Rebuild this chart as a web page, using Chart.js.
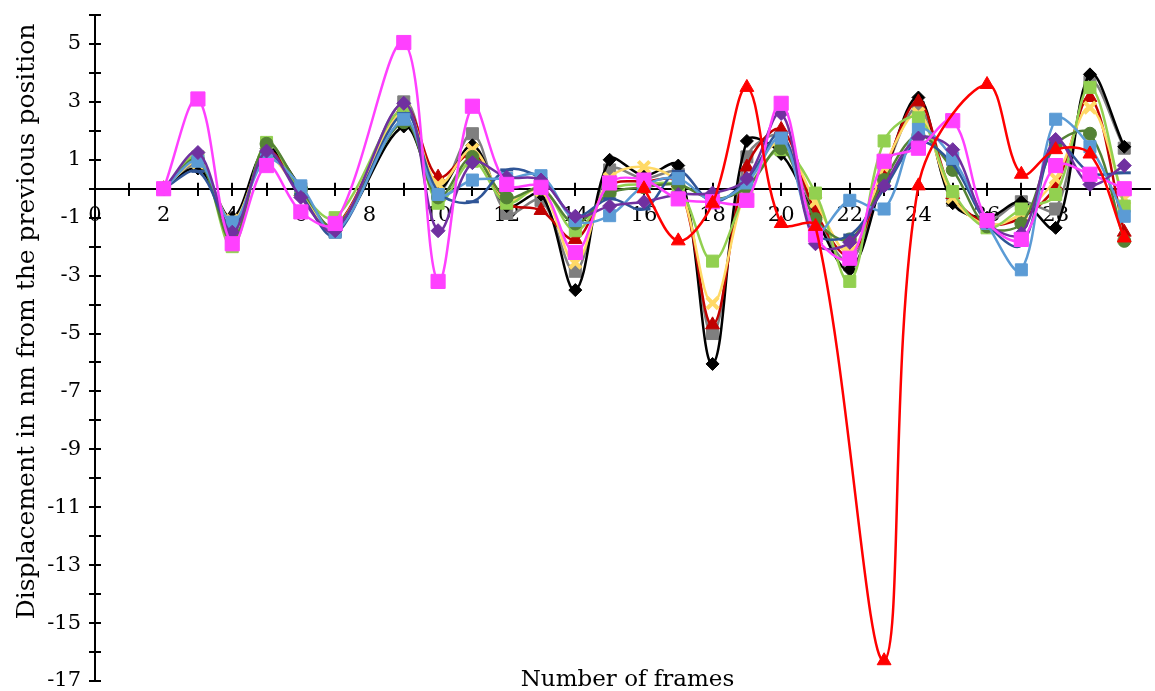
<!DOCTYPE html>
<html>
<head>
<meta charset="utf-8">
<script src="https://cdn.jsdelivr.net/npm/chart.js@4/dist/chart.umd.min.js"></script>
<style>
  html, body { margin: 0; padding: 0; background: #ffffff; }
  #wrap { width: 1155px; height: 691px; position: relative; }
</style>
</head>
<body>
<div id="wrap"><canvas id="chart"></canvas></div>
<script>
// Frame numbers (frame 8 was not recorded)
const frames = [2, 3, 4, 5, 6, 7, 9, 10, 11, 12, 13, 14, 15, 16, 17, 18, 19, 20, 21, 22, 23, 24, 25, 26, 27, 28, 29, 30];

// Displacement (nm) of each tracked particle from its previous position
const blackDiamond  = [0, 0.7, -1.0, 1.4, 0.05, -1.4, 2.15, 0.0, 1.5, -0.6, -0.2, -3.5, 1.0, 0.45, 0.8, -6.05, 1.65, 1.2, -1.0, -2.8, 0.45, 3.15, -0.5, -1.0, -0.45, -1.35, 3.95, 1.45];
const graySquare    = [0, 0.8, -1.3, 1.3, 0.0, -1.5, 3.0, -0.1, 1.9, -0.85, -0.4, -2.85, 0.65, 0.35, 0.5, -5.0, 1.1, 1.8, -0.9, -2.5, 0.5, 2.8, -0.4, -1.1, -0.45, -0.7, 3.7, 1.4];
const darkRedTri    = [0, 1.0, -1.4, 1.3, -0.1, -1.3, 2.8, 0.4, 1.2, -0.5, -0.75, -1.75, 0.1, 0.25, 0.2, -4.7, 0.75, 2.05, -0.8, -2.3, 0.6, 3.0, -0.2, -1.2, -1.0, 0.1, 3.15, -1.5];
const goldCross     = [0, 0.9, -1.1, 1.1, -0.15, -1.35, 2.7, 0.15, 1.35, -0.4, -0.05, -2.55, 0.35, 0.75, 0.15, -3.95, 0.1, 1.6, -0.45, -2.2, 0.75, 2.6, -0.3, -1.25, -0.85, 0.35, 2.8, -0.35];
const limeSquare    = [0, 1.1, -2.0, 1.6, -0.1, -1.0, 2.75, -0.5, 0.95, -0.5, 0.05, -1.45, -0.05, 0.15, 0.05, -2.5, -0.1, 1.35, -0.15, -3.2, 1.65, 2.45, -0.1, -1.35, -0.7, -0.2, 3.5, -0.6];
const greenCircle   = [0, 1.0, -1.8, 1.55, 0.0, -1.3, 2.3, -0.3, 1.1, -0.3, 0.0, -1.2, -0.15, 0.05, 0.15, -0.35, 0.05, 1.4, -1.05, -1.75, 0.3, 1.85, 0.65, -1.3, -1.2, 1.5, 1.9, -1.8];
const navyDash      = [0, 0.6, -1.3, 1.2, -0.2, -1.6, 2.6, -0.1, -0.45, 0.65, 0.35, -0.95, -0.35, -0.7, 0.6, -0.45, 0.3, 1.9, -1.55, -1.6, 0.0, 1.6, 0.85, -1.2, -1.95, 1.6, 0.55, 0.55];
const skySquare     = [0, 0.95, -1.15, 1.0, 0.1, -1.5, 2.4, -0.2, 0.3, 0.35, 0.45, -1.1, -0.93, 0.1, 0.35, -0.4, 0.2, 1.75, -1.5, -0.4, -0.7, 2.05, 1.05, -1.2, -2.8, 2.4, 1.45, -0.95];
const purpleDiamond = [0, 1.25, -1.5, 1.3, -0.3, -1.45, 2.95, -1.45, 0.9, 0.4, 0.3, -0.95, -0.6, -0.45, -0.2, -0.15, 0.35, 2.6, -1.9, -1.85, 0.1, 1.75, 1.35, -1.15, -1.55, 1.7, 0.15, 0.8];
const pinkSquare    = [0, 3.1, -1.9, 0.8, -0.8, -1.2, 5.05, -3.2, 2.85, 0.15, 0.05, -2.2, 0.2, 0.3, -0.35, -0.45, -0.4, 2.95, -1.6, -2.4, 0.95, 1.4, 2.35, -1.1, -1.75, 0.8, 0.5, 0.0];
// This particle is only tracked from frame 16 on
const redTriangle   = [null, null, null, null, null, null, null, null, null, null, null, null, null, 0.0, -1.8, -0.5, 3.5, -1.2, -1.3, null, -16.3, 0.1, null, 3.6, 0.5, 1.35, 1.2, -1.7];

// Axis labels
const xTickLabels = [0, 2, 4, 6, 8, 10, 12, 14, 16, 18, 20, 22, 24, 26, 28, 30];
const yTickLabels = [5, 3, 1, -1, -3, -5, -7, -9, -11, -13, -15, -17];
const xTitle = 'Number of frames';
const yTitle = 'Displacement in nm from the previous position';

const FONT = '"DejaVu Serif", serif';
const TICK = 6;

function toPoints(values) {
  const pts = [];
  values.forEach((v, i) => { if (v !== null) pts.push({ x: frames[i], y: v }); });
  return pts;
}

function series(values, color, style, radius, borderW) {
  return {
    data: toPoints(values),
    borderColor: color,
    backgroundColor: color,
    pointBackgroundColor: color,
    pointBorderColor: color,
    pointStyle: style,
    pointRadius: radius,
    pointHoverRadius: radius,
    pointBorderWidth: borderW || 1,
    borderWidth: 2.5,
    fill: false
  };
}

// First dataset is painted last (on top)
const datasets = [
  series(redTriangle,   '#FF0000', 'triangle', 8),
  series(pinkSquare,    '#FF40FF', 'rect', 10),
  series(purpleDiamond, '#7030A0', 'rectRot', 7),
  series(skySquare,     '#5B9BD5', 'rect', 8.5),
  series(navyDash,      '#2F5597', 'line', 6.5, 3),
  series(greenCircle,   '#548235', 'circle', 6.5),
  series(limeSquare,    '#92D050', 'rect', 8.5),
  series(goldCross,     '#FFD966', 'crossRot', 8, 4),
  series(darkRedTri,    '#C00000', 'triangle', 8),
  series(blackDiamond,  '#000000', 'rectRot', 6.5),
  series(graySquare,    '#7F7F7F', 'rect', 8.5)
];

// Scales should not reserve extra room for their end labels
function noEdgePadding(scale) {
  scale.paddingLeft = 0; scale.paddingRight = 0;
  scale.paddingTop = 0; scale.paddingBottom = 0;
}

// Ticks that cross the axis lines, plus the axis titles
const axisDecor = {
  id: 'axisDecor',
  beforeDatasetsDraw(chart) {
    const { ctx, chartArea, scales } = chart;
    const xs = scales.x, ys = scales.y;
    const y0 = ys.getPixelForValue(0);
    ctx.save();
    ctx.strokeStyle = '#000';
    ctx.lineWidth = 2;
    xs.ticks.forEach(t => {
      const px = Math.round(xs.getPixelForValue(t.value));
      ctx.beginPath();
      ctx.moveTo(px, y0);
      ctx.lineTo(px, y0 - TICK);
      ctx.stroke();
    });
    ys.ticks.forEach(t => {
      const py = Math.round(ys.getPixelForValue(t.value));
      ctx.beginPath();
      ctx.moveTo(chartArea.left, py);
      ctx.lineTo(chartArea.left + TICK, py);
      ctx.stroke();
    });
    ctx.restore();
  },
  afterDraw(chart) {
    const { ctx, chartArea } = chart;
    ctx.save();
    ctx.fillStyle = '#000';
    ctx.textAlign = 'center';
    ctx.textBaseline = 'middle';
    ctx.font = '23px ' + FONT;
    ctx.fillText(xTitle, (chartArea.left + chartArea.right) / 2 + 5, chart.height - 11);
    ctx.translate(27, chartArea.top + (chartArea.bottom - chartArea.top) * 0.46);
    ctx.rotate(-Math.PI / 2);
    ctx.font = '25px ' + FONT;
    ctx.fillText(yTitle, 0, 0);
    ctx.restore();
  }
};

new Chart(document.getElementById('chart'), {
  type: 'line',
  data: { datasets },
  plugins: [axisDecor],
  options: {
    responsive: true,
    maintainAspectRatio: false,
    animation: false,
    layout: { autoPadding: false, padding: { top: 15, right: 5, bottom: 10, left: 0 } },
    elements: { line: { tension: 0.35, capBezierPoints: true } },
    plugins: { legend: { display: false }, tooltip: { enabled: false } },
    scales: {
      x: {
        type: 'linear',
        position: { y: 0 },
        min: 0,
        max: 30.75,
        afterBuildTicks(scale) {
          scale.ticks = scale.ticks.filter(t => Number.isInteger(t.value));
        },
        afterFit: noEdgePadding,
        border: { display: true, color: '#000', width: 2 },
        grid: { display: true, drawOnChartArea: false, drawTicks: true, tickLength: TICK, color: '#000', lineWidth: 2 },
        ticks: {
          stepSize: 1,
          autoSkip: false,
          maxRotation: 0,
          padding: 8,
          color: '#000',
          font: { family: FONT, size: 21 },
          callback: v => (xTickLabels.includes(v) ? String(v) : '')
        }
      },
      y: {
        type: 'linear',
        position: 'left',
        min: -17,
        max: 6,
        afterFit(scale) {
          noEdgePadding(scale);
          scale.width = 95;
        },
        border: { display: true, color: '#000', width: 2 },
        grid: { display: true, drawOnChartArea: false, drawTicks: true, tickLength: TICK, color: '#000', lineWidth: 2 },
        ticks: {
          stepSize: 1,
          autoSkip: false,
          padding: 8,
          color: '#000',
          font: { family: FONT, size: 21 },
          callback: v => (yTickLabels.includes(v) ? String(v) : '')
        }
      }
    }
  }
});
</script>
</body>
</html>
